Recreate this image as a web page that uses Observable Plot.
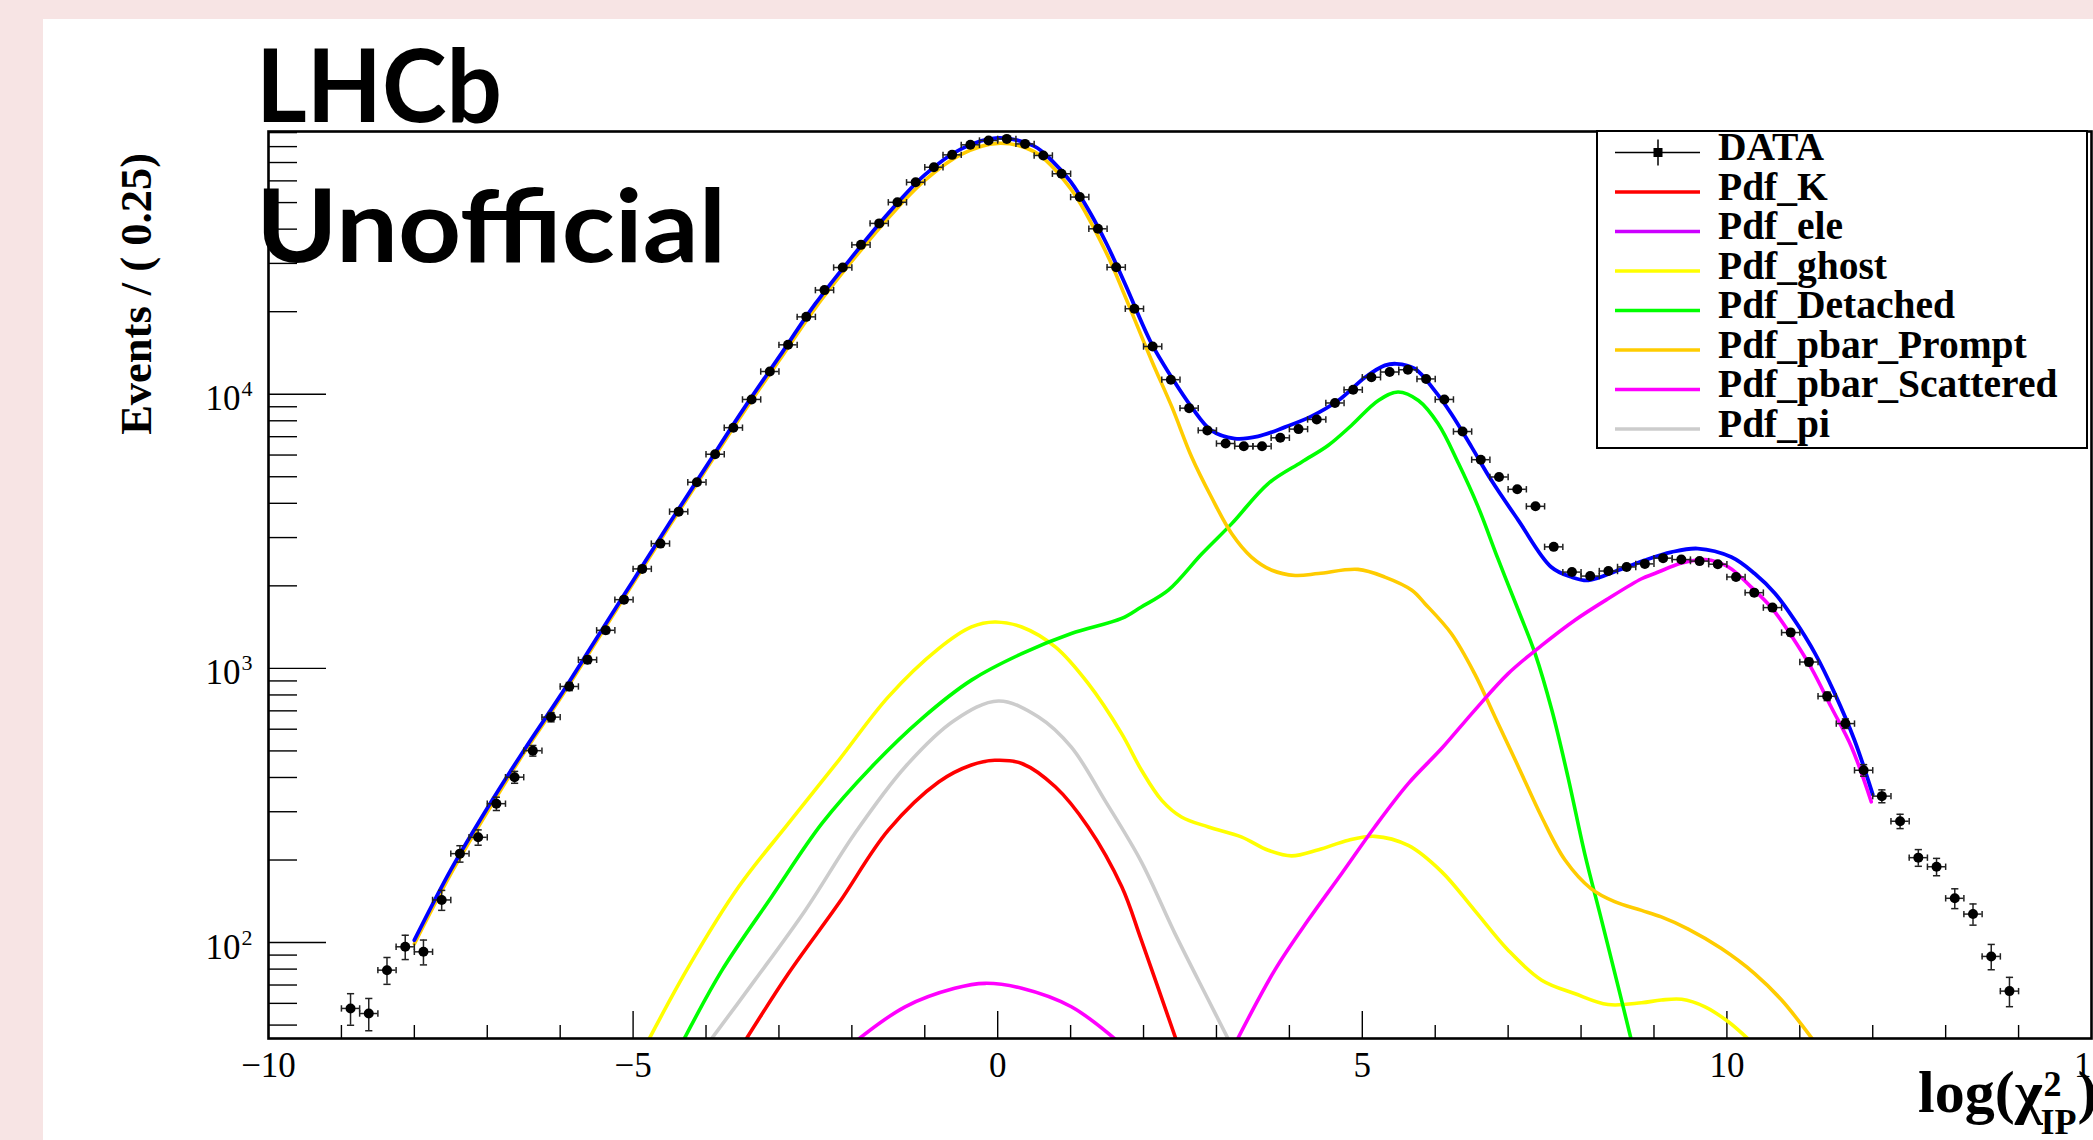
<!DOCTYPE html>
<html><head><meta charset="utf-8">
<script src="https://cdn.jsdelivr.net/npm/d3@7"></script>
<script src="https://cdn.jsdelivr.net/npm/@observablehq/plot@0.6"></script>
<style>
html,body{margin:0;padding:0;background:#f7e4e4;width:2093px;height:1140px;overflow:hidden;}
#panel{position:absolute;left:43px;top:19px;width:2050px;height:1121px;background:#fff;}
#chart{position:absolute;left:43px;top:19px;}
#overlay{position:absolute;left:0;top:0;}
</style></head><body>
<div id="panel"></div><div id="chart"></div>
<svg id="overlay" width="2093" height="1140"></svg>
<script>
// ---------------- data ----------------
const binWidth = 0.25;
const binCenter = [-8.875,-8.625,-8.375,-8.125,-7.875,-7.625,-7.375,-7.125,-6.875,-6.625,-6.375,-6.125,-5.875,-5.625,-5.375,-5.125,-4.875,-4.625,-4.375,-4.125,-3.875,-3.625,-3.375,-3.125,-2.875,-2.625,-2.375,-2.125,-1.875,-1.625,-1.375,-1.125,-0.875,-0.625,-0.375,-0.125,
0.125,0.375,0.625,0.875,1.125,1.375,1.625,1.875,2.125,2.375,2.625,2.875,3.125,3.375,3.625,3.875,4.125,4.375,4.625,4.875,5.125,5.375,5.625,5.875,6.125,6.375,6.625,6.875,7.125,7.375,7.625,7.875,8.125,8.375,8.625,8.875,9.125,9.375,9.625,9.875,10.125,10.375,10.625,10.875,11.125,11.375,11.625,11.875,12.125,12.375,12.625,12.875,13.125,13.375,13.625,13.875];
const events = [57.5,55.1,79.3,96.5,92.5,143,211,242,321,401,501,664,859,1075,1377,1781,2306,2852,3730,4775,6040,7550,9570,12100,15140,19150,23970,28980,35060,41980,50120,59290,67260,74650,81210,84200,
85370,81850,74270,63700,52370,40120,29040,20500,14930,11300,8895,7380,6610,6460,6460,6935,7460,8090,9290,10380,11530,12050,12280,11370,9570,7310,5770,4990,4500,3900,2775,2245,2171,2265,2344,2405,2524,2494,2462,2399,2155,1889,1666,1351,1055,791,629,425,342,277,204,189,145,127,89,66.5];

const totalX = [-8,-7.5,-7,-6.5,-6,-5.5,-5,-4.5,-4,-3.5,-3,-2.5,-2,-1.5,-1,-0.5,0,0.5,0.75,1,1.25,1.5,1.75,2.11,2.385,2.66,2.93,3.25,3.57,3.94,4.30,4.67,5.04,5.31,5.47,5.72,5.99,6.22,6.50,6.77,7.14,7.59,7.87,8.10,8.51,8.87,9.24,9.60,10.06,10.38,10.66,10.93,11.21,11.48,11.75,12.0];
const totalY = [102,184,309,501,794,1288,2089,3388,5433,8710,13650,21380,31620,45710,63100,78520,86100,80350,70800,59570,46770,35080,25120,15280,11530,8970,7380,6890,7015,7586,8300,9484,11530,12740,12910,12390,10330,8492,6412,4853,3467,2344,2153,2094,2280,2477,2655,2735,2547,2218,1875,1496,1132,809,547,347];

const promptX = [-8,-7.5,-7,-6.5,-6,-5.5,-5,-4.5,-4,-3.5,-3,-2.5,-2,-1.5,-1,-0.5,0,0.5,1,1.5,1.75,2.11,2.39,2.66,2.93,3.21,3.48,3.76,4.08,4.40,4.94,5.31,5.68,5.86,6.22,6.54,6.82,7.14,7.46,7.78,8.14,8.46,8.83,9.10,9.47,9.92,10.38,10.75,11.2];
const promptY = [98.9,178,299,490,776,1259,2042,3311,5309,8472,13240,20650,30550,43950,60260,74990,82220,76740,56230,32360,22650,13270,8970,5902,4217,3097,2547,2280,2183,2218,2296,2153,1928,1722,1340,957,665,438,287,200,157,141,131,124,112,95.3,77.1,61.7,43.5];

const detachedX = [-4.31,-3.78,-3.10,-2.41,-1.73,-1.04,-0.36,0.33,1.01,1.70,1.97,2.34,2.80,3.21,3.71,4.17,4.53,4.85,5.22,5.49,5.77,6.04,6.32,6.59,6.86,7.14,7.37,7.60,7.82,8.05,8.28,8.51,8.69];
const detachedY = [44,79.3,147,272,437,656,906,1132,1340,1521,1675,1928,2618,3373,4721,5662,6501,7691,9484,10190,9484,7798,5585,3873,2512,1629,1132,703,402,211,121,68.9,44];

const ghostX = [-4.79,-4.24,-3.55,-2.87,-2.18,-1.50,-0.81,-0.36,-0.04,0.33,0.79,1.24,1.70,1.97,2.25,2.52,2.89,3.34,3.71,4.03,4.40,4.81,5.17,5.63,6.09,6.54,7.0,7.46,7.91,8.37,8.83,9.10,9.38,9.70,10.02,10.31];
const ghostY = [44,81.5,160,272,462,787,1180,1416,1476,1416,1197,881,578,426,330,287,264,243,217,207,218,236,244,226,181,131,93.8,72.9,65.2,59.4,60.3,61.7,62.1,58.3,51.4,44];

const piX = [-3.94,-3.33,-2.64,-1.96,-1.27,-0.59,0.01,0.56,1.01,1.47,1.97,2.43,2.89,3.17];
const piY = [44,72.9,131,250,437,647,760,665,516,330,197,108,61.7,44];

const kX = [-3.46,-2.87,-2.18,-1.50,-0.81,-0.36,-0.04,0.33,0.79,1.24,1.70,1.97,2.45];
const kY = [44,77.1,139,257,385,444,462,450,370,264,160,102,44];

const eleX = [-1.93,-1.27,-0.59,-0.17,0.33,1.01,1.63];
const eleY = [44,58.3,68.1,71.0,68.1,58.3,44];

const scatX = [3.28,3.80,4.26,4.72,5.17,5.63,6.09,6.54,7.0,7.46,7.91,8.37,8.83,9.01,9.38,9.70,10.02,10.33,10.61,10.88,11.16,11.43,11.71,11.98];
const scatY = [44,79.3,121,179,264,380,511,703,957,1213,1496,1795,2123,2218,2421,2495,2344,1982,1667,1321,1000,723,516,326];

const legendNames = ["DATA","Pdf_K","Pdf_ele","Pdf_ghost","Pdf_Detached","Pdf_pbar_Prompt","Pdf_pbar_Scattered","Pdf_pi"];
const legendColors = ["#000000","#ff0000","#cc00ff","#ffff00","#00ff00","#ffcc00","#ff00ff","#cccccc"];

const xMajorTicks = [-5, 0, 5, 10];
const xLabelTicks = [-10, -5, 0, 5, 10, 15];
const xMinorTicks = [-9,-8,-7,-6,-4,-3,-2,-1,1,2,3,4,6,7,8,9,11,12,13,14];
const yMajorTicks = [100, 1000, 10000];
const yTickBase = ["10","10","10"];
const yTickExp = ["2","3","4"];
const yMinorTicks = [50,60,70,80,90,200,300,400,500,600,700,800,900,2000,3000,4000,5000,6000,7000,8000,9000,20000,30000,40000,50000,60000,70000,80000,90000];
const yTitle = "Events / ( 0.25)";
const brandLines = ["LHCb", "Unofficial"];

// ---------------- chart ----------------
const W = 2050, H = 1121, mL = 225, mT = 112, mR = 2, mB = 102;
const innerW = W - mL - mR, innerH = H - mT - mB;
const pts = binCenter.map((c, i) => ({c, v: events[i], e: Math.sqrt(events[i])}));
const toLine = (xs, ys) => xs.map((x, i) => ({x, y: ys[i]}));
const vTick = {draw(ctx, size) { const r = Math.sqrt(size / Math.PI); ctx.moveTo(0, -r); ctx.lineTo(0, r); }};
const hTick = {draw(ctx, size) { const r = Math.sqrt(size / Math.PI); ctx.moveTo(-r, 0); ctx.lineTo(r, 0); }};
const curve = (xs, ys, color, w = 3.6) => Plot.line(toLine(xs, ys), {x: "x", y: "y", stroke: color, strokeWidth: w, curve: "catmull-rom", clip: true});
const errCol = "#222";

const plot = Plot.plot({
  width: W, height: H, marginLeft: mL, marginTop: mT, marginRight: mR, marginBottom: mB,
  style: {background: "transparent", fontFamily: "'Liberation Serif','Times New Roman',serif", fontSize: "35px", overflow: "visible", color: "#000"},
  x: {domain: [-10, 15]},
  y: {type: "log", domain: [44.67, 90830], axis: null},
  marks: [
    Plot.tickY(yMajorTicks, {y: d => d, insetRight: innerW - 58, stroke: "#000", strokeWidth: 1.4}),
    Plot.tickY(yMinorTicks, {y: d => d, insetRight: innerW - 29, stroke: "#000", strokeWidth: 1.4}),
    Plot.tickX(xMajorTicks, {x: d => d, insetTop: innerH - 27, stroke: "#000", strokeWidth: 1.4}),
    Plot.tickX(xMinorTicks, {x: d => d, insetTop: innerH - 13, stroke: "#000", strokeWidth: 1.4}),
    Plot.axisX({ticks: xLabelTicks, tickSize: 0, tickPadding: 14, label: null, fontSize: 35}),
    Plot.text(yMajorTicks, {y: d => d, frameAnchor: "left", text: (d, i) => yTickBase[i], textAnchor: "end", lineAnchor: "bottom", dx: -28, dy: 16, fontSize: 35}),
    Plot.text(yMajorTicks, {y: d => d, frameAnchor: "left", text: (d, i) => yTickExp[i], textAnchor: "start", lineAnchor: "bottom", dx: -27, dy: 2, fontSize: 22}),
    curve(piX, piY, "#cccccc"),
    curve(kX, kY, "#ff0000"),
    curve(eleX, eleY, "#ff00ff"),
    curve(ghostX, ghostY, "#ffff00"),
    curve(detachedX, detachedY, "#00ff00"),
    curve(promptX, promptY, "#ffcc00"),
    curve(scatX, scatY, "#ff00ff"),
    curve(totalX, totalY, "#0000ff", 3.8),
    Plot.ruleY(pts, {y: "v", x1: d => d.c - binWidth / 2, x2: d => d.c + binWidth / 2, stroke: errCol, strokeWidth: 1.5}),
    Plot.ruleX(pts, {x: "c", y1: d => d.v - d.e, y2: d => d.v + d.e, stroke: errCol, strokeWidth: 1.5}),
    Plot.dot(pts, {x: d => d.c - binWidth / 2, y: "v", symbol: vTick, r: 3.2, stroke: errCol, strokeWidth: 1.5, fill: "none"}),
    Plot.dot(pts, {x: d => d.c + binWidth / 2, y: "v", symbol: vTick, r: 3.2, stroke: errCol, strokeWidth: 1.5, fill: "none"}),
    Plot.dot(pts, {x: "c", y: d => d.v - d.e, symbol: hTick, r: 3.6, stroke: errCol, strokeWidth: 1.5, fill: "none"}),
    Plot.dot(pts, {x: "c", y: d => d.v + d.e, symbol: hTick, r: 3.6, stroke: errCol, strokeWidth: 1.5, fill: "none"}),
    Plot.dot(pts, {x: "c", y: "v", r: 5, fill: "#000", stroke: "none"}),
    Plot.frame({stroke: "#000", strokeWidth: 2.6})
  ]
});
document.getElementById("chart").appendChild(plot);

// ---------------- annotations ----------------
const ov = d3.select("#overlay");
const serif = "'Liberation Serif','Times New Roman',serif";
// legend
const lg = ov.append("g");
lg.append("rect").attr("x", 1597).attr("y", 131).attr("width", 490).attr("height", 317)
  .attr("fill", "#fff").attr("stroke", "#000").attr("stroke-width", 2);
legendNames.forEach((name, i) => {
  const base = 160 + i * 39.5;
  const ly = base - 7.5;
  if (i === 0) {
    lg.append("line").attr("x1", 1615).attr("x2", 1700).attr("y1", ly).attr("y2", ly).attr("stroke", "#000").attr("stroke-width", 1.5);
    lg.append("line").attr("x1", 1658).attr("x2", 1658).attr("y1", ly - 13).attr("y2", ly + 13).attr("stroke", "#000").attr("stroke-width", 1.5);
    lg.append("rect").attr("x", 1653.5).attr("y", ly - 4.5).attr("width", 9).attr("height", 9).attr("fill", "#000");
  } else {
    lg.append("line").attr("x1", 1615).attr("x2", 1700).attr("y1", ly).attr("y2", ly).attr("stroke", legendColors[i]).attr("stroke-width", 3.5);
  }
  lg.append("text").attr("x", 1718).attr("y", base).attr("font-family", serif).attr("font-weight", 700)
    .attr("font-size", 39.5).attr("fill", "#000").text(name);
});
// y title
ov.append("text").attr("transform", "translate(151,153) rotate(-90)").attr("text-anchor", "end")
  .attr("font-family", serif).attr("font-weight", 700).attr("font-size", 44.5).text(yTitle);
// x title
const xt = ov.append("g").attr("font-family", serif).attr("font-weight", 700).attr("fill", "#000");
const t1 = xt.append("text").attr("x", 1918).attr("y", 1112).attr("font-size", 60).text("log(χ");
const w1 = t1.node().getComputedTextLength();
const sup = xt.append("text").attr("x", 1918 + w1 + 1).attr("y", 1096).attr("font-size", 36).text("2");
const sub = xt.append("text").attr("x", 1918 + w1 - 2).attr("y", 1134).attr("font-size", 36).text("IP");
const w2 = Math.max(sup.node().getComputedTextLength() + 3, sub.node().getComputedTextLength());
xt.append("text").attr("x", 1918 + w1 - 2 + w2 + 1).attr("y", 1112).attr("font-size", 60).text(")");
// brand (Calibri-like bold sans, widths matched to the reference)
const brandWidths = [246, 470];
brandLines.forEach((t, i) => {
  ov.append("text").attr("x", 256).attr("y", i === 0 ? 122 : 262).attr("font-family", "Lato,'Open Sans',sans-serif")
    .attr("font-weight", 700).attr("font-size", 102).attr("fill", "#000")
    .attr("textLength", brandWidths[i]).attr("lengthAdjust", "spacingAndGlyphs").text(t);
});
</script>
</body></html>
